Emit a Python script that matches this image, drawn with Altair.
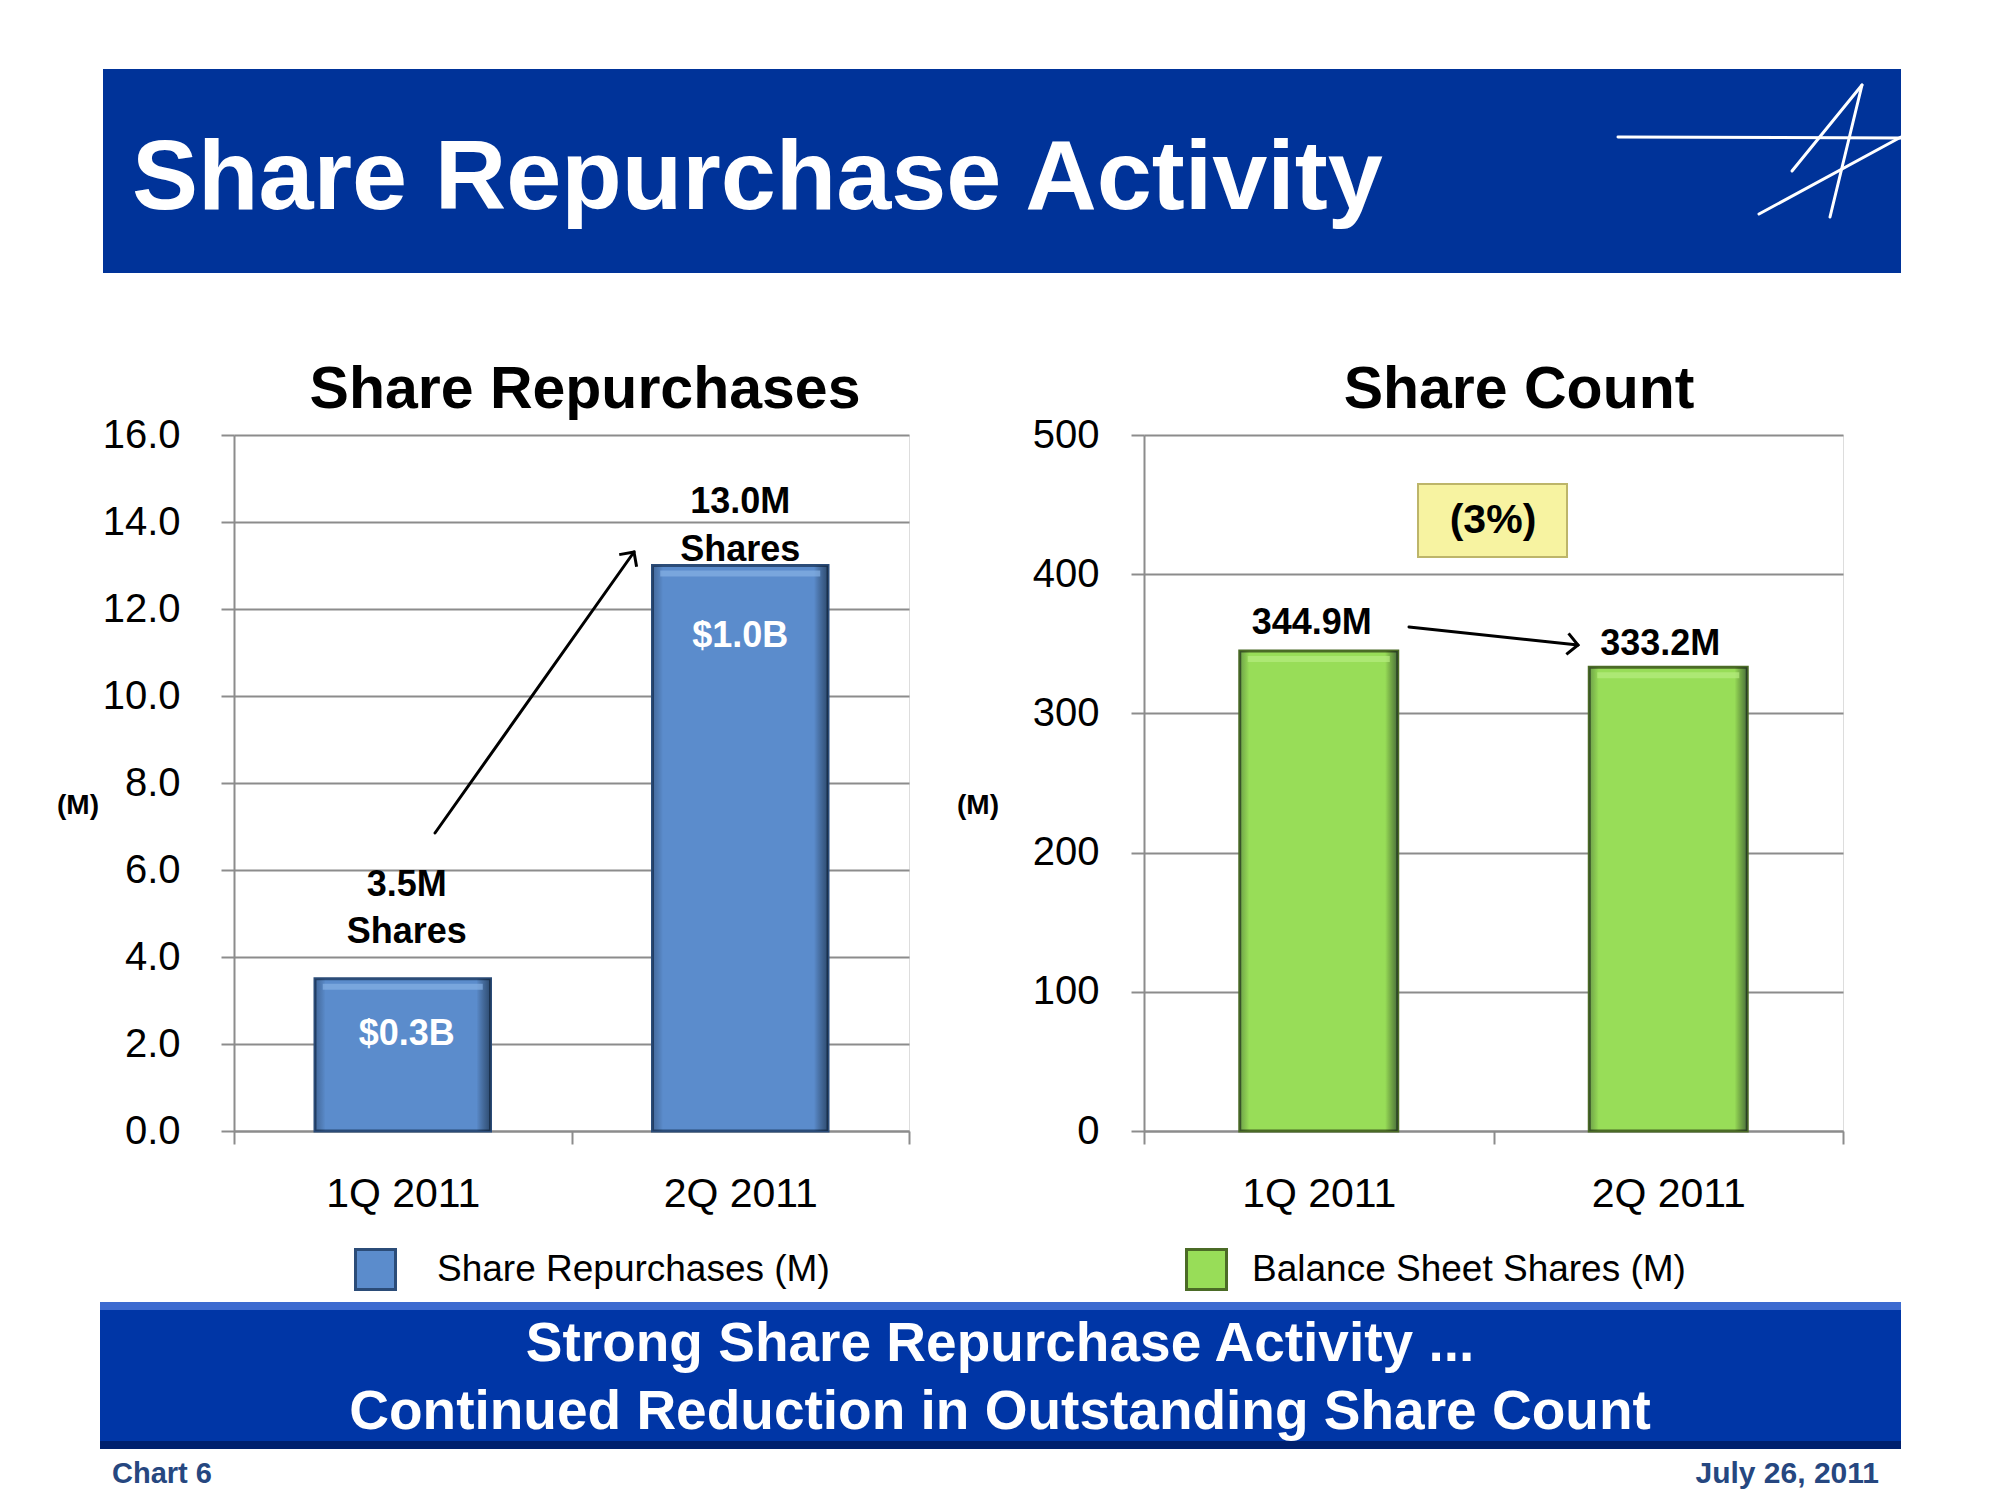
import altair as alt
import pandas as pd

# ---------------- data ----------------
quarters = ["1Q 2011", "2Q 2011"]
repurchased_shares = [3.5, 13.0]            # millions of shares repurchased
repurchase_top_labels = ["3.5M", "13.0M"]
repurchase_second_line = ["Shares", "Shares"]
repurchase_dollars = ["$0.3B", "$1.0B"]
balance_sheet_shares = [344.9, 333.2]       # millions of shares outstanding
balance_sheet_labels = ["344.9M", "333.2M"]
left_ticks = [0, 2, 4, 6, 8, 10, 12, 14, 16]
right_ticks = [0, 100, 200, 300, 400, 500]
change_label = "(3%)"
header_title = "Share Repurchase Activity"
panel_titles = ["Share Repurchases", "Share Count"]
legend_labels = ["Share Repurchases (M)", "Balance Sheet Shares (M)"]
axis_unit = "(M)"
banner_lines = ["Strong Share Repurchase Activity ...",
                "Continued Reduction in Outstanding Share Count"]
footer_left = "Chart 6"
footer_right = "July  26, 2011"

FONT = "Liberation Sans"
GRAY = "#8C8C8C"
HEADER_BLUE = "#003399"
BAR_BLUE = "#5B8CCC"
BAR_BLUE_EDGE = "#2B4C78"
BAR_GREEN = "#98DD58"
BAR_GREEN_EDGE = "#4B6B26"

left_df = pd.DataFrame({
    "quarter": quarters,
    "shares": repurchased_shares,
    "top": repurchase_top_labels,
    "second": repurchase_second_line,
    "dollars": repurchase_dollars,
    "series": [legend_labels[0]] * 2,
})
right_df = pd.DataFrame({
    "quarter": quarters,
    "count": balance_sheet_shares,
    "label": balance_sheet_labels,
    "series2": [legend_labels[1]] * 2,
})

one = pd.DataFrame({"k": [0]})

# side-bevel shading laid over the bars
BEVEL = alt.Gradient(
    gradient="linear", x1=0, x2=1, y1=0, y2=0,
    stops=[alt.GradientStop(offset=0, color="rgba(10,25,50,0.30)"),
           alt.GradientStop(offset=0.06, color="rgba(0,0,0,0)"),
           alt.GradientStop(offset=0.92, color="rgba(0,0,0,0)"),
           alt.GradientStop(offset=1, color="rgba(10,25,40,0.55)")])


def seg(x1, y1, x2, y2, color="black", width=3):
    return alt.Chart(one).mark_rule(color=color, strokeWidth=width, strokeCap="round").encode(
        x=alt.value(x1), y=alt.value(y1), x2=alt.value(x2), y2=alt.value(y2))


def box(x1, y1, x2, y2, fill, stroke=None, sw=0):
    kw = dict(fill=fill)
    if stroke:
        kw.update(stroke=stroke, strokeWidth=sw)
    return alt.Chart(one).mark_rect(**kw).encode(
        x=alt.value(x1), y=alt.value(y1), x2=alt.value(x2), y2=alt.value(y2))


def label(text, x, y, size, color="black", weight="bold", align="center", baseline="middle"):
    return alt.Chart(one).mark_text(
        text=text, fontSize=size, font=FONT, fontWeight=weight, color=color,
        align=align, baseline=baseline).encode(x=alt.value(x), y=alt.value(y))


def arrowhead(x, y, angle):
    return alt.Chart(one).mark_point(
        shape="M-1,-1L0,0L-1,1", filled=False, stroke="black", strokeWidth=3,
        size=450, angle=angle, opacity=1).encode(x=alt.value(x), y=alt.value(y))


def xaxis_enc():
    return alt.X("quarter:N", sort=quarters,
                 scale=alt.Scale(paddingInner=0, paddingOuter=0),
                 axis=alt.Axis(title=None, labelAngle=0, labelFontSize=41, labelFont=FONT,
                               labelColor="black", tickBand="extent", tickSize=13,
                               tickColor=GRAY, tickWidth=2, domainColor=GRAY, domainWidth=2,
                               labelPadding=30, grid=False))


def legend(x, y, edge, offset):
    return alt.Legend(orient="none", legendX=x, legendY=y, title=None,
                      symbolType="square", symbolSize=1600,
                      symbolStrokeColor=edge, symbolStrokeWidth=3,
                      symbolOpacity=1, labelFontSize=37, labelFont=FONT,
                      labelColor="black", labelOffset=offset, padding=0, labelLimit=0)


# ---------------- left panel ----------------
WL, H = 675, 696
yl = alt.Y("shares:Q", scale=alt.Scale(domain=[0, 16], nice=False),
           axis=alt.Axis(title=None, values=left_ticks, format=".1f", labelFontSize=40,
                         labelFont=FONT, labelColor="black", tickSize=13, tickColor=GRAY,
                         tickWidth=2, domainColor=GRAY, domainWidth=2, gridColor=GRAY,
                         gridWidth=2, labelPadding=41))
bl = alt.Chart(left_df)
bars_l = bl.mark_bar(width={"band": 0.52}, stroke=BAR_BLUE_EDGE, strokeWidth=3).encode(
    x=xaxis_enc(), y=yl,
    color=alt.Color("series:N", scale=alt.Scale(range=[BAR_BLUE]),
                    legend=legend(120, 813, BAR_BLUE_EDGE, 40)))
shade_l = bl.mark_bar(width={"band": 0.52}, color=BEVEL).encode(
    x=alt.X("quarter:N", sort=quarters), y="shares:Q")
hi_l = bl.mark_tick(color="#86B0E4", thickness=6, size=160, yOffset=8).encode(
    x=alt.X("quarter:N", sort=quarters), y="shares:Q")


def ltxt(q, field, dy, dx=0, color="black"):
    return bl.transform_filter(alt.datum.quarter == q).mark_text(
        fontSize=36, font=FONT, fontWeight="bold", color=color, dy=dy, dx=dx,
        baseline="middle"
    ).encode(x=alt.X("quarter:N", sort=quarters), y="shares:Q", text=f"{field}:N")


left_layers = [
    # header banner
    box(-131, -366, 1667, -162, HEADER_BLUE),
    label(header_title, -102, -226, 99, color="white", align="left", baseline="alphabetic"),
    seg(1384, -298, 1667, -297, "white", 3),
    seg(1558, -264, 1628, -350, "white", 3),
    seg(1628, -350, 1596, -218, "white", 3),
    seg(1667, -298, 1525, -221, "white", 3),
    # bottom banner
    box(-134, 867, 1667, 1014, "#0036A6"),
    box(-134, 867, 1667, 875, "#3D6BD0"),
    box(-134, 1006, 1667, 1014, "#00206E"),
    label(banner_lines[0], 766, 909, 55, color="white"),
    label(banner_lines[1], 766, 977, 55, color="white"),
    label(footer_left, -122, 1039, 29, color="#264780", align="left"),
    label(footer_right, 1645, 1039, 30, color="#264780", align="right"),
    # panel texts
    label(panel_titles[0], 351, -45, 59),
    label(axis_unit, -156, 371, 28),
    # bars
    bars_l, shade_l, hi_l,
    ltxt("1Q 2011", "top", -94, 4), ltxt("1Q 2011", "second", -47, 4),
    ltxt("2Q 2011", "top", -64), ltxt("2Q 2011", "second", -16),
    ltxt("1Q 2011", "dollars", 55, 4, "white"), ltxt("2Q 2011", "dollars", 70, 0, "white"),
    # arrow
    seg(201, 398, 400, 117), arrowhead(400, 117, 305),
    # bounds anchor (page top-left)
    seg(-225, -426, -224, -426, "white", 1),
]
left = alt.layer(*left_layers).properties(width=WL, height=H)

# ---------------- right panel ----------------
WR = 699
yr = alt.Y("count:Q", scale=alt.Scale(domain=[0, 500], nice=False),
           axis=alt.Axis(title=None, values=right_ticks, format="d", labelFontSize=40,
                         labelFont=FONT, labelColor="black", tickSize=13, tickColor=GRAY,
                         tickWidth=2, domainColor=GRAY, domainWidth=2, gridColor=GRAY,
                         gridWidth=2, labelPadding=32))
br = alt.Chart(right_df)
bars_r = br.mark_bar(width={"band": 0.452}, stroke=BAR_GREEN_EDGE, strokeWidth=3).encode(
    x=xaxis_enc(), y=yr,
    color=alt.Color("series2:N", scale=alt.Scale(range=[BAR_GREEN]),
                    legend=legend(41, 813, BAR_GREEN_EDGE, 24)))
shade_r = br.mark_bar(width={"band": 0.452}, color=BEVEL).encode(
    x=alt.X("quarter:N", sort=quarters), y="count:Q")
hi_r = br.mark_tick(color="#B6EC80", thickness=6, size=142, yOffset=8).encode(
    x=alt.X("quarter:N", sort=quarters), y="count:Q")


def rtxt(q, dy, dx):
    return br.transform_filter(alt.datum.quarter == q).mark_text(
        fontSize=36, font=FONT, fontWeight="bold", color="black", dy=dy, dx=dx,
        baseline="middle").encode(x=alt.X("quarter:N", sort=quarters), y="count:Q",
                                  text="label:N")


right_layers = [
    label(panel_titles[1], 375, -45, 59),
    label(axis_unit, -166, 371, 28),
    bars_r, shade_r, hi_r,
    rtxt("1Q 2011", -28, -7), rtxt("2Q 2011", -23, -8),
    box(274, 49, 423, 122, "#F7F3A1", "#BDB56A", 2),
    label(change_label, 349, 86, 41),
    seg(265, 192, 434, 210), arrowhead(434, 210, 6),
]
right = alt.layer(*right_layers).properties(width=WR, height=H)

chart = alt.hconcat(left, right, spacing=235, bounds="flush", padding=0).resolve_scale(
    color="independent").configure_view(stroke=None).configure(
    font=FONT, background="white")

chart.save("out.html", embed_options={"renderer": "svg", "actions": False})
